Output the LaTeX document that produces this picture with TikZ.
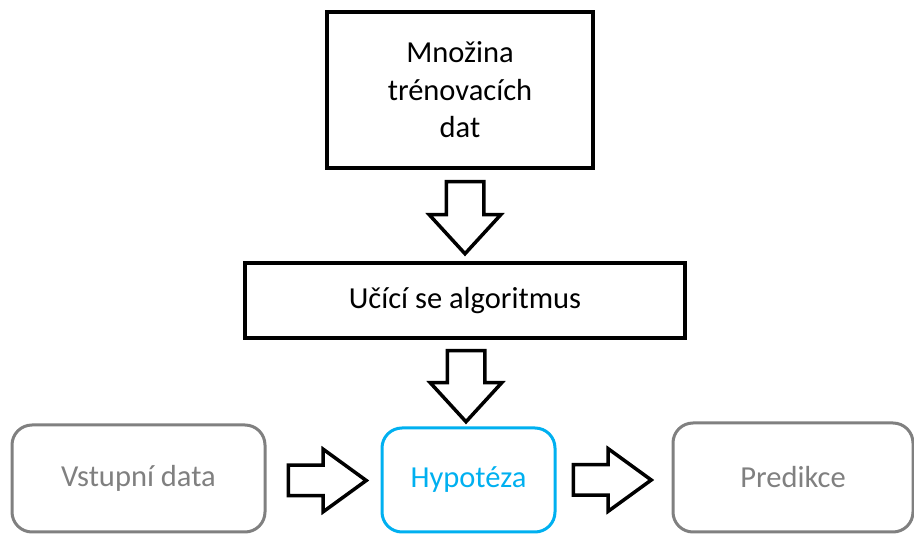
\documentclass[tikz,border=0pt]{standalone}
\usepackage{fontspec}
\setmainfont{Carlito}
\usetikzlibrary{shapes.arrows,calc}
\definecolor{boxgray}{HTML}{808080}
\definecolor{hypoblue}{HTML}{00B0F0}

\begin{document}
\begin{tikzpicture}[x=1pt,y=-1pt,
        font=\fontsize{30.5}{37.5}\selectfont,
        blackbox/.style={draw,line width=4pt,inner sep=0pt},
        roundbox/.style={draw,line width=3pt,rounded corners=20pt,inner sep=0pt},
        blockarrow/.style={draw,line width=3.5pt,single arrow,inner xsep=0pt,anchor=tail,
            text height=0pt,text depth=0pt,text width=0pt}]
        \useasboundingbox (0,0) rectangle (914,534);

        \node[blackbox,minimum width=266pt,minimum height=156pt,align=center](train)at(460,90){Množina\\trénovacích\\dat};
        \node[blackbox,minimum width=440pt,minimum height=75pt](algo)at(465,300.5){Učící se algoritmus};

        \node[roundbox,draw=boxgray,text=boxgray,minimum width=253pt,minimum height=107pt](input)at(138.5,478.5){Vstupní data};
        \node[roundbox,draw=hypoblue,text=hypoblue,minimum width=173pt,minimum height=104pt](hypo)at(468.5,480){Hypotéza};
        \node[roundbox,draw=boxgray,text=boxgray,minimum width=240pt,minimum height=109pt](pred)at(793,477.5){Predikce};

        \node[blockarrow,rotate=-90,minimum height=72pt,inner ysep=17pt,single arrow head extend=17pt,single arrow tip angle=85](arrA)at($(train.south)+(5,10)$){};
        \node[blockarrow,rotate=-90,minimum height=71pt,inner ysep=17pt,single arrow head extend=17pt,single arrow tip angle=85](arrB)at($(algo.south)+(1,9)$){};
        \node[blockarrow,minimum height=78pt,inner ysep=13.5pt,single arrow head extend=16pt,single arrow tip angle=72](arrC)at($(input.east)+(20,2)$){};
        \node[blockarrow,minimum height=78pt,inner ysep=13.5pt,single arrow head extend=16pt,single arrow tip angle=72](arrD)at($(hypo.east)+(15,0)$){};
    \end{tikzpicture}
\end{document}
